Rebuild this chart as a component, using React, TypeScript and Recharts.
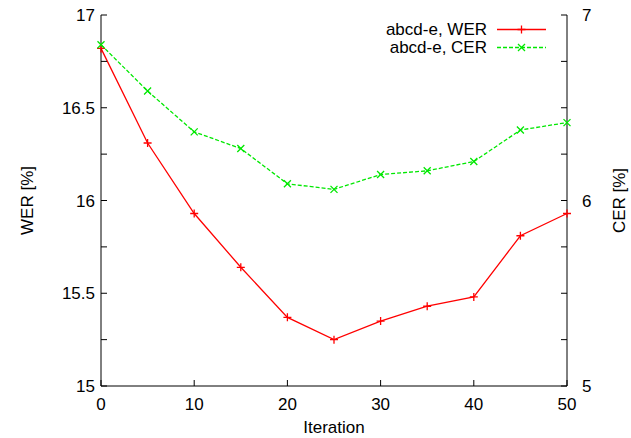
import React from "react";
import { LineChart, Line, XAxis, YAxis, Label } from "recharts";

const iterations = [0, 5, 10, 15, 20, 25, 30, 35, 40, 45, 50];
const wer = [16.82, 16.31, 15.93, 15.64, 15.37, 15.25, 15.35, 15.43, 15.48, 15.81, 15.93];
const cer = [6.84, 6.59, 6.37, 6.28, 6.09, 6.06, 6.14, 6.16, 6.21, 6.38, 6.42];

const xTicks = [0, 10, 20, 30, 40, 50];
const werTicks = [15, 15.25, 15.5, 15.75, 16, 16.25, 16.5, 16.75, 17];
const cerTicks = [5, 5.25, 5.5, 5.75, 6, 6.25, 6.5, 6.75, 7];

const seriesNames = ["abcd-e, WER", "abcd-e, CER"];

const data = iterations.map((it, i) => ({ it, wer: wer[i], cer: cer[i] }));

const RED = "#ff0000";
const GREEN = "#00e800";
const FONT = "'Liberation Sans', Arial, sans-serif";
const TICK = { fill: "#000", fontSize: 17, fontFamily: FONT };

function PlusDot(props: any) {
  const { cx, cy } = props;
  if (cx == null || cy == null) return null;
  return <path d={`M${cx - 4},${cy}h8M${cx},${cy - 4}v8`} stroke={RED} strokeWidth={1.3} fill="none" />;
}

function CrossDot(props: any) {
  const { cx, cy } = props;
  if (cx == null || cy == null) return null;
  return (
    <path
      d={`M${cx - 3.5},${cy - 3.5}l7,7M${cx - 3.5},${cy + 3.5}l7,-7`}
      stroke={GREEN}
      strokeWidth={1.3}
      fill="none"
    />
  );
}

// only label the half / whole steps, the rest are minor ticks
const halfFmt = (v: number) => (Math.abs(v * 2 - Math.round(v * 2)) < 1e-6 ? String(v) : "");
const wholeFmt = (v: number) => (Math.abs(v - Math.round(v)) < 1e-6 ? String(v) : "");

function LegendRow({ label, color, dashed, marker }: { label: string; color: string; dashed?: boolean; marker: "plus" | "cross" }) {
  return (
    <div style={{ display: "flex", alignItems: "center", height: 17 }}>
      <div style={{ width: 487, textAlign: "right", fontSize: 17, lineHeight: "17px" }}>{label}</div>
      <svg width={60} height={17} style={{ marginLeft: 10 }}>
        <line x1={0} y1={8.5} x2={49} y2={8.5} stroke={color} strokeWidth={1.3} strokeDasharray={dashed ? "4 2" : undefined} />
        {marker === "plus" ? (
          <path d="M20.5,8.5h8M24.5,4.5v8" stroke={color} strokeWidth={1.3} />
        ) : (
          <path d="M21,5l7,7M21,12l7,-7" stroke={color} strokeWidth={1.3} />
        )}
      </svg>
    </div>
  );
}

export default function App() {
  return (
    <div style={{ position: "absolute", left: 0, top: 0, width: 631, height: 438, background: "#fff", fontFamily: FONT }}>
      <LineChart width={631} height={438} data={data} margin={{ top: 15, right: 0, bottom: 22, left: 0 }}>
        <XAxis
          dataKey="it"
          type="number"
          domain={[0, 50]}
          ticks={xTicks}
          tick={TICK}
          tickSize={-6}
          tickMargin={18}
          height={30}
          stroke="#000"
        >
          <Label value="Iteration" position="bottom" offset={5} style={{ fontSize: 17, fontFamily: FONT, fill: "#000" }} />
        </XAxis>
        <XAxis
          xAxisId="top"
          orientation="top"
          dataKey="it"
          type="number"
          domain={[0, 50]}
          ticks={xTicks}
          tickFormatter={() => ""}
          tickSize={-6}
          height={0}
          stroke="#000"
        />
        <YAxis
          yAxisId="left"
          type="number"
          domain={[15, 17]}
          ticks={werTicks}
          tickFormatter={halfFmt}
          tick={TICK}
          tickSize={-6}
          tickMargin={12}
          width={101}
          stroke="#000"
          interval={0}
        >
          <Label value="WER [%]" angle={-90} position="insideLeft" offset={27} style={{ textAnchor: "middle", fontSize: 17, fontFamily: FONT, fill: "#000" }} />
        </YAxis>
        <YAxis
          yAxisId="right"
          orientation="right"
          type="number"
          domain={[5, 7]}
          ticks={cerTicks}
          tickFormatter={wholeFmt}
          tick={TICK}
          tickSize={-6}
          tickMargin={21}
          width={64}
          stroke="#000"
          interval={0}
        >
          <Label value="CER [%]" angle={-90} position="insideRight" offset={12} style={{ textAnchor: "middle", fontSize: 17, fontFamily: FONT, fill: "#000" }} />
        </YAxis>
        <Line
          yAxisId="left"
          type="linear"
          dataKey="wer"
          name={seriesNames[0]}
          stroke={RED}
          strokeWidth={1.3}
          dot={PlusDot}
          activeDot={false}
          isAnimationActive={false}
        />
        <Line
          yAxisId="right"
          type="linear"
          dataKey="cer"
          name={seriesNames[1]}
          stroke={GREEN}
          strokeWidth={1.3}
          strokeDasharray="4 2"
          dot={CrossDot}
          activeDot={false}
          isAnimationActive={false}
        />
      </LineChart>
      <div style={{ position: "absolute", left: 0, top: 21 }}>
        <LegendRow label={seriesNames[0]} color={RED} marker="plus" />
        <div style={{ height: 1 }} />
        <LegendRow label={seriesNames[1]} color={GREEN} dashed marker="cross" />
      </div>
    </div>
  );
}
